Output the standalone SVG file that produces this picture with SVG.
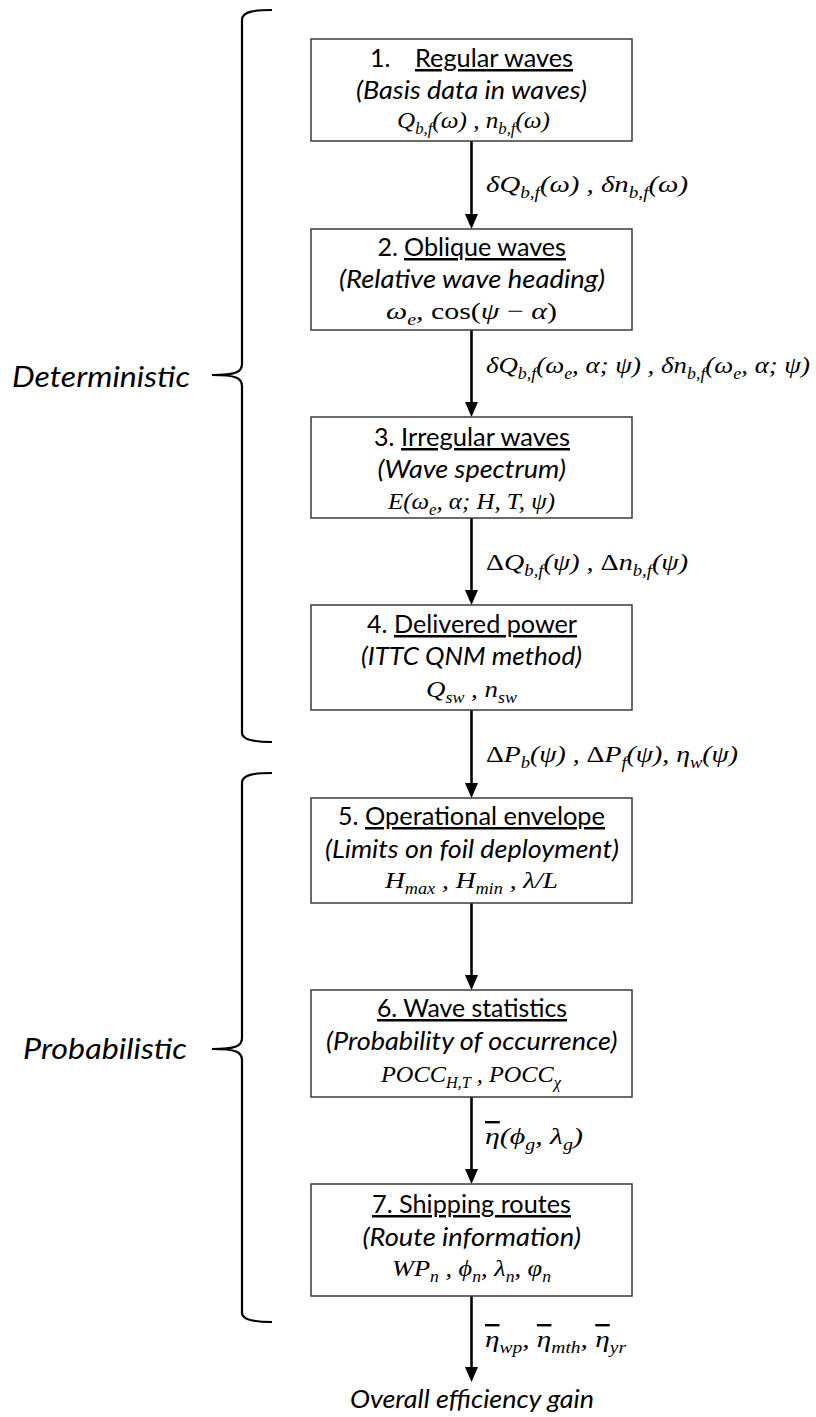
<svg xmlns="http://www.w3.org/2000/svg" width="816" height="1417" viewBox="0 0 816 1417">
<style>
.box{fill:#fff;stroke:#3a3a3a;stroke-width:1.5}
.t{font-family:Lato,"Liberation Sans",sans-serif;font-size:25px;fill:#000}
.i{font-family:Lato,"Liberation Sans",sans-serif;font-size:25px;font-style:italic;fill:#000}
.side{font-family:Lato,"Liberation Sans",sans-serif;font-size:28px;font-style:italic;fill:#000}
.u{text-decoration:underline}
.o{text-decoration:overline}
.m{font-family:"Liberation Serif","DejaVu Serif",serif;font-size:24px;font-style:italic;fill:#000}
.s{font-size:16px}
.n{font-style:normal}
.arrow{stroke:#000;stroke-width:2.6;fill:none;marker-end:url(#ah)}
.brace{stroke:#000;stroke-width:2.2;fill:none}
</style>
<defs>
<marker id="ah" markerUnits="userSpaceOnUse" markerWidth="16" markerHeight="14" refX="5" refY="7" orient="auto" viewBox="0 0 16 14">
<path d="M0,0.5 L15,7 L0,13.5 Z" fill="#000"/>
</marker>
</defs>
<rect width="816" height="1417" fill="#fff"/>

<g id="brace-deterministic">
<path class="brace" d="M272,10 C256,10 242,11 242,20 L242,364 C242,372 236,375 212,375 C236,375 242,378 242,386 L242,733 C242,740 256,742 272,742"/>
<text class="side" x="12" y="387" textLength="178" lengthAdjust="spacingAndGlyphs">Deterministic</text>
</g>
<g id="brace-probabilistic">
<path class="brace" d="M272,773 C256,773 242,774 242,783 L242,1038 C242,1046 236,1049 212,1049 C236,1049 242,1052 242,1060 L242,1313 C242,1320 256,1322 272,1322"/>
<text class="side" x="23" y="1059" textLength="164" lengthAdjust="spacingAndGlyphs">Probabilistic</text>
</g>

<g id="connectors">
<line class="arrow" x1="471.5" y1="141" x2="471.5" y2="219"/>
<line class="arrow" x1="471.5" y1="330" x2="471.5" y2="407"/>
<line class="arrow" x1="471.5" y1="518" x2="471.5" y2="595"/>
<line class="arrow" x1="471.5" y1="710" x2="471.5" y2="788"/>
<line class="arrow" x1="471.5" y1="903" x2="471.5" y2="980"/>
<line class="arrow" x1="471.5" y1="1097" x2="471.5" y2="1174"/>
<line class="arrow" x1="471.5" y1="1296" x2="471.5" y2="1372"/>
<text class="m" x="486" y="192" textLength="202" lengthAdjust="spacingAndGlyphs">δQ<tspan class="s" dy="6">b,f</tspan><tspan dy="-6">(ω) , δn</tspan><tspan class="s" dy="6">b,f</tspan><tspan dy="-6">(ω)</tspan></text>
<text class="m" x="486" y="373" textLength="324" lengthAdjust="spacingAndGlyphs">δQ<tspan class="s" dy="6">b,f</tspan><tspan dy="-6">(ω</tspan><tspan class="s" dy="6">e</tspan><tspan dy="-6">, α; ψ) , δn</tspan><tspan class="s" dy="6">b,f</tspan><tspan dy="-6">(ω</tspan><tspan class="s" dy="6">e</tspan><tspan dy="-6">, α; ψ)</tspan></text>
<text class="m" x="486" y="570" textLength="202" lengthAdjust="spacingAndGlyphs"><tspan class="n">Δ</tspan>Q<tspan class="s" dy="6">b,f</tspan><tspan dy="-6">(ψ) , </tspan><tspan class="n">Δ</tspan>n<tspan class="s" dy="6">b,f</tspan><tspan dy="-6">(ψ)</tspan></text>
<text class="m" x="486" y="762" textLength="252" lengthAdjust="spacingAndGlyphs"><tspan class="n">Δ</tspan>P<tspan class="s" dy="6">b</tspan><tspan dy="-6">(ψ) , </tspan><tspan class="n">Δ</tspan>P<tspan class="s" dy="6">f</tspan><tspan dy="-6">(ψ),  η</tspan><tspan class="s" dy="6">w</tspan><tspan dy="-6">(ψ)</tspan></text>
<text class="m" x="485" y="1144" textLength="98" lengthAdjust="spacingAndGlyphs"><tspan class="o">η</tspan>(ϕ<tspan class="s" dy="6">g</tspan><tspan dy="-6">, λ</tspan><tspan class="s" dy="6">g</tspan><tspan dy="-6">)</tspan></text>
<text class="m" x="485" y="1347" textLength="141" lengthAdjust="spacingAndGlyphs"><tspan class="o">η</tspan><tspan class="s" dy="6">wp</tspan><tspan dy="-6">, </tspan><tspan class="o">η</tspan><tspan class="s" dy="6">mth</tspan><tspan dy="-6">, </tspan><tspan class="o">η</tspan><tspan class="s" dy="6">yr</tspan></text>
</g>

<g id="node1">
<rect class="box" x="311" y="39" width="321" height="102"/>
<text class="t" x="370" y="67">1.</text>
<text class="t u" x="415" y="67" textLength="158" lengthAdjust="spacingAndGlyphs">Regular waves</text>
<text class="i" x="356" y="99" textLength="231" lengthAdjust="spacingAndGlyphs">(Basis data in waves)</text>
<text class="m" x="397" y="128" textLength="153" lengthAdjust="spacingAndGlyphs">Q<tspan class="s" dy="6">b,f</tspan><tspan dy="-6">(ω) , n</tspan><tspan class="s" dy="6">b,f</tspan><tspan dy="-6">(ω)</tspan></text>
</g>

<g id="node2">
<rect class="box" x="311" y="229" width="321" height="101"/>
<text class="t" x="377.5" y="256">2.</text>
<text class="t u" x="404" y="256" textLength="162" lengthAdjust="spacingAndGlyphs">Oblique waves</text>
<text class="i" x="339" y="288" textLength="266" lengthAdjust="spacingAndGlyphs">(Relative wave heading)</text>
<text class="m" x="386" y="319" textLength="171" lengthAdjust="spacingAndGlyphs">ω<tspan class="s" dy="6">e</tspan><tspan dy="-6">,  </tspan><tspan class="n">cos(</tspan>ψ <tspan class="n">−</tspan> α<tspan class="n">)</tspan></text>
</g>

<g id="node3">
<rect class="box" x="311" y="417" width="321" height="101"/>
<text class="t" x="374" y="446">3.</text>
<text class="t u" x="401" y="446" textLength="169" lengthAdjust="spacingAndGlyphs">Irregular waves</text>
<text class="i" x="377.5" y="478" textLength="188.5" lengthAdjust="spacingAndGlyphs">(Wave spectrum)</text>
<text class="m" x="388" y="509" textLength="167" lengthAdjust="spacingAndGlyphs">E(ω<tspan class="s" dy="6">e</tspan><tspan dy="-6">, α; H, T, ψ)</tspan></text>
</g>

<g id="node4">
<rect class="box" x="311" y="605" width="321" height="105"/>
<text class="t" x="367" y="633">4.</text>
<text class="t u" x="394" y="633" textLength="183" lengthAdjust="spacingAndGlyphs">Delivered power</text>
<text class="i" x="361" y="665" textLength="221" lengthAdjust="spacingAndGlyphs">(ITTC QNM method)</text>
<text class="m" x="426" y="697" textLength="91" lengthAdjust="spacingAndGlyphs">Q<tspan class="s" dy="6">sw</tspan><tspan dy="-6"> , n</tspan><tspan class="s" dy="6">sw</tspan></text>
</g>

<g id="node5">
<rect class="box" x="311" y="798" width="321" height="105"/>
<text class="t" x="338" y="825">5.</text>
<text class="t u" x="365" y="825" textLength="240" lengthAdjust="spacingAndGlyphs">Operational envelope</text>
<text class="i" x="325" y="858" textLength="294" lengthAdjust="spacingAndGlyphs">(Limits on foil deployment)</text>
<text class="m" x="385" y="888" textLength="173" lengthAdjust="spacingAndGlyphs">H<tspan class="s" dy="6">max</tspan><tspan dy="-6"> , H</tspan><tspan class="s" dy="6">min</tspan><tspan dy="-6"> , λ/L</tspan></text>
</g>

<g id="node6">
<rect class="box" x="311" y="990" width="321" height="107"/>
<text class="t u" x="377" y="1017" textLength="190" lengthAdjust="spacingAndGlyphs">6. Wave statistics</text>
<text class="i" x="326" y="1050" textLength="291.5" lengthAdjust="spacingAndGlyphs">(Probability of occurrence)</text>
<text class="m" x="381" y="1082" textLength="180" lengthAdjust="spacingAndGlyphs">POCC<tspan class="s" dy="6">H,T</tspan><tspan dy="-6"> ,  POCC</tspan><tspan class="s" dy="6">χ</tspan></text>
</g>

<g id="node7">
<rect class="box" x="311" y="1184" width="321" height="112"/>
<text class="t u" x="372" y="1213" textLength="199" lengthAdjust="spacingAndGlyphs">7. Shipping routes</text>
<text class="i" x="362.5" y="1246" textLength="218.5" lengthAdjust="spacingAndGlyphs">(Route information)</text>
<text class="m" x="392" y="1276" textLength="159" lengthAdjust="spacingAndGlyphs">WP<tspan class="s" dy="6">n</tspan><tspan dy="-6"> , ϕ</tspan><tspan class="s" dy="6">n</tspan><tspan dy="-6">, λ</tspan><tspan class="s" dy="6">n</tspan><tspan dy="-6">, φ</tspan><tspan class="s" dy="6">n</tspan></text>
</g>

<g id="result">
<text class="i" x="350" y="1408" textLength="244" lengthAdjust="spacingAndGlyphs">Overall efficiency gain</text>
</g>
</svg>
